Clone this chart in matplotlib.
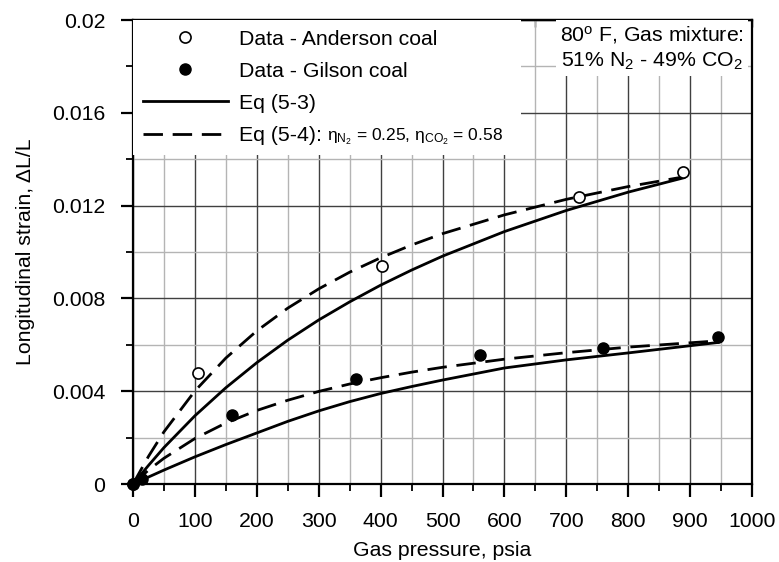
import matplotlib
matplotlib.use('Agg')
import matplotlib.pyplot as plt
from matplotlib.ticker import MultipleLocator, FuncFormatter

plt.rcParams['font.family'] = ['Liberation Sans', 'DejaVu Sans']
plt.rcParams['mathtext.fontset'] = 'custom'
plt.rcParams['mathtext.rm'] = 'Liberation Sans'
plt.rcParams['mathtext.it'] = 'Liberation Sans:italic'
plt.rcParams['mathtext.bf'] = 'Liberation Sans:bold'

# measured data (psia, strain)
anderson_p = [0, 105, 403, 720, 888]
anderson_s = [0, 0.0048, 0.0094, 0.01237, 0.01345]
gilson_p = [0, 14, 160, 361, 561, 759, 945]
gilson_s = [0, 0.0002, 0.00297, 0.00452, 0.00556, 0.00586, 0.00634]

# model curves
curve_p_and = [0, 25, 50, 100, 150, 200, 250, 300, 350, 400, 450, 500, 600, 700, 800, 890]
eq53_and = [0, 0.0008, 0.00157, 0.00294, 0.00415, 0.00523, 0.0062, 0.00707, 0.00785,
            0.00857, 0.00922, 0.00982, 0.01088, 0.01179, 0.01258, 0.0132]
eq54_and = [0, 0.00119, 0.00225, 0.00401, 0.00543, 0.0066, 0.00758, 0.00841, 0.00913,
            0.00975, 0.0103, 0.01079, 0.0116, 0.01227, 0.01282, 0.01324]
curve_p_gil = [0, 25, 50, 100, 150, 200, 250, 300, 350, 400, 450, 500, 600, 700, 800, 945]
eq53_gil = [0, 0.0003, 0.0006, 0.00117, 0.0017, 0.0022, 0.0027, 0.00315, 0.00355,
            0.0039, 0.0042, 0.00448, 0.005, 0.00535, 0.00565, 0.0061]
eq54_gil = [0, 0.0006, 0.00111, 0.00196, 0.00263, 0.00317, 0.00361, 0.00399, 0.00431,
            0.00458, 0.00482, 0.00503, 0.00538, 0.00566, 0.0059, 0.00617]

labels = ['Data - Anderson coal', 'Data - Gilson coal', 'Eq (5-3)', 'Eq (5-4):']
eta_text = 'η$_{\\mathrm{N_2}}$ = 0.25, η$_{\\mathrm{CO_2}}$ = 0.58'
note_text = '80$^{\\mathrm{o}}$ F, Gas mixture:\n51% N$_2$ - 49% CO$_2$'

W, H = 779, 562
FS = 15.3
fig = plt.figure(figsize=(W / 100, H / 100), dpi=100)
ax = fig.add_axes([133 / W, 1 - 484 / H, (752 - 133) / W, (484 - 20) / H])

lw = 2.0
ax.plot(curve_p_and, eq53_and, color='black', lw=lw, zorder=3)
ax.plot(curve_p_gil, eq53_gil, color='black', lw=lw, zorder=3)
ax.plot(curve_p_and, eq54_and, color='black', lw=lw, dashes=(7, 3.5), zorder=3)
ax.plot(curve_p_gil, eq54_gil, color='black', lw=lw, dashes=(7, 3.5), zorder=3)

ax.plot(anderson_p, anderson_s, 'o', mfc='white', mec='black', mew=1.2, ms=8,
        zorder=6, clip_on=False)
ax.plot(gilson_p, gilson_s, 'o', color='black', ms=8, zorder=6, clip_on=False)

ax.set_xlim(0, 1000)
ax.set_ylim(0, 0.02)
ax.xaxis.set_major_locator(MultipleLocator(100))
ax.xaxis.set_minor_locator(MultipleLocator(50))
ax.yaxis.set_major_locator(MultipleLocator(0.004))
ax.yaxis.set_minor_locator(MultipleLocator(0.002))
ax.yaxis.set_major_formatter(FuncFormatter(lambda v, pos: f'{v:g}'))

ax.grid(which='major', color='#404040', lw=1.0, zorder=0)
ax.grid(which='minor', color='#b4b4b4', lw=1.0, zorder=0)
ax.set_axisbelow(True)

ax.tick_params(which='major', direction='out', length=9, width=1.6, labelsize=FS, pad=11)
ax.tick_params(which='minor', direction='out', length=5, width=1.3)
for sp in ax.spines.values():
    sp.set_linewidth(1.6)

top = ax.secondary_xaxis('top')
top.set_xticks(range(0, 1001, 50))
top.tick_params(direction='in', length=5, width=1.0, labeltop=False)
top.spines['top'].set_linewidth(1.6)

ax.set_xlabel('Gas pressure, psia', fontsize=FS, labelpad=7)
ax.set_ylabel('Longitudinal strain, ΔL/L', fontsize=FS, labelpad=12)

h_and = plt.Line2D([], [], ls='none', marker='o', mfc='white', mec='black', mew=1.2, ms=8)
h_gil = plt.Line2D([], [], ls='none', marker='o', color='black', ms=8)
h_53 = plt.Line2D([], [], color='black', lw=lw)
h_54 = plt.Line2D([], [], color='black', lw=lw, dashes=(7, 3.5))
leg = ax.legend([h_and, h_gil, h_53, h_54], labels, loc='upper left',
                bbox_to_anchor=(0, 0.5, 0.627, 0.5), mode='expand',
                fontsize=FS, handlelength=4, handletextpad=0.55,
                labelspacing=0.62, borderpad=0.45, borderaxespad=0.0,
                frameon=True, fancybox=False, edgecolor='none',
                facecolor='white', framealpha=1)
leg.set_zorder(5)

ax.text(838, 0.0188, note_text, fontsize=FS, ha='center', va='center',
        linespacing=1.3, zorder=5,
        bbox=dict(facecolor='white', edgecolor='none', pad=3))

fig.canvas.draw()
bb = leg.get_texts()[3].get_window_extent()
fig.text((bb.x1 + 5) / W, (bb.y0 + bb.y1) / 2 / H - 0.002, eta_text, fontsize=12.5,
         ha='left', va='center', zorder=7)

fig.savefig('out.png', dpi=100)
